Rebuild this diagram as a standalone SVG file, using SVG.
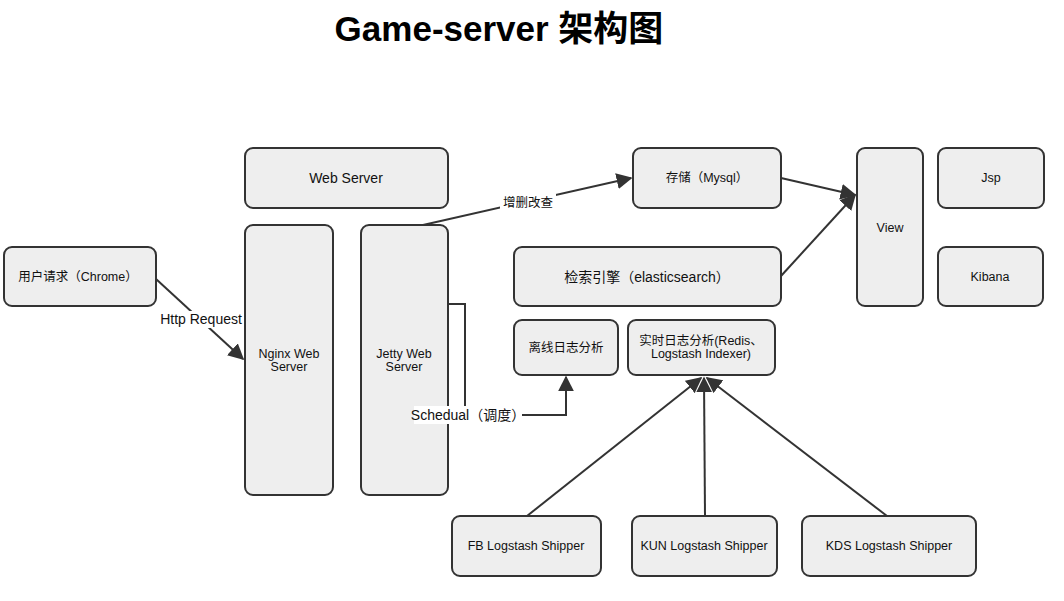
<svg xmlns="http://www.w3.org/2000/svg" width="1064" height="601" viewBox="0 0 1064 601">
<style>
.n rect{fill:#eeeeee;stroke:#333333;stroke-width:2}
text{font-family:"Liberation Sans","Noto Sans CJK SC",sans-serif;fill:#111;text-anchor:middle}
.t{font-size:12.5px}
.m{font-size:14px}
.c{fill:none;stroke:#333333;stroke-width:2}
.lb{fill:#ffffff}
</style>
<defs>
<marker id="b" viewBox="0 0 10 10" refX="9" refY="5" markerWidth="16" markerHeight="16" markerUnits="userSpaceOnUse" orient="auto">
<path d="M0,0 L10,5 L0,10 Z" fill="#333333"/>
</marker>
</defs>
<rect width="1064" height="601" fill="#ffffff"/>
<text x="499" y="41" style="font-size:35px;font-weight:bold;fill:#000">Game-server 架构图</text>

<g id="web-server" class="n"><rect x="245" y="148" width="203" height="60" rx="8"/><text class="m" x="346" y="183">Web Server</text></g>
<g id="user" class="n"><rect x="4" y="247" width="152" height="59" rx="8"/><text class="t" x="78" y="281">用户请求（Chrome）</text></g>
<g id="nginx" class="n"><rect x="245" y="225" width="88" height="270" rx="8"/><text class="t" x="289" y="358">Nginx Web</text><text class="t" x="289" y="371">Server</text></g>
<g id="jetty" class="n"><rect x="361" y="225" width="87" height="270" rx="8"/><text class="t" x="404" y="358">Jetty Web</text><text class="t" x="404" y="371">Server</text></g>
<g id="mysql" class="n"><rect x="633" y="148" width="148" height="60" rx="8"/><text class="t" x="707" y="182">存储（Mysql）</text></g>
<g id="es" class="n"><rect x="514" y="247" width="267" height="59" rx="8"/><text class="m" x="647" y="282">检索引擎（elasticsearch）</text></g>
<g id="offline" class="n"><rect x="514" y="320" width="104" height="55" rx="8"/><text class="t" x="566" y="352">离线日志分析</text></g>
<g id="realtime" class="n"><rect x="628" y="320" width="147" height="55" rx="8"/><text class="t" x="701" y="345">实时日志分析(Redis、</text><text class="t" x="701" y="358">Logstash Indexer)</text></g>
<g id="view" class="n"><rect x="857" y="148" width="66" height="158" rx="8"/><text class="t" x="890" y="232">View</text></g>
<g id="jsp" class="n"><rect x="938" y="148" width="106" height="60" rx="8"/><text class="t" x="991" y="182">Jsp</text></g>
<g id="kibana" class="n"><rect x="938" y="247" width="105" height="59" rx="8"/><text class="t" x="990" y="281">Kibana</text></g>
<g id="fb" class="n"><rect x="452" y="516" width="149" height="60" rx="8"/><text class="t" x="526" y="550">FB Logstash Shipper</text></g>
<g id="kun" class="n"><rect x="632" y="516" width="145" height="60" rx="8"/><text class="t" x="704" y="550">KUN Logstash Shipper</text></g>
<g id="kds" class="n"><rect x="802" y="516" width="174" height="60" rx="8"/><text class="t" x="889" y="550">KDS Logstash Shipper</text></g>

<g id="connectors">
<line class="c" x1="156" y1="279" x2="243" y2="359" marker-end="url(#b)"/>
<line class="c" x1="423" y1="225" x2="631" y2="178" marker-end="url(#b)"/>
<line class="c" x1="781" y1="178" x2="855" y2="195" marker-end="url(#b)"/>
<line class="c" x1="781" y1="276" x2="855" y2="195" marker-end="url(#b)"/>
<polyline class="c" points="448,304 465,304 465,415 566,415 566,377" marker-end="url(#b)"/>
<line class="c" x1="527" y1="516" x2="701" y2="378" marker-end="url(#b)"/>
<line class="c" x1="705" y1="516" x2="704" y2="378" marker-end="url(#b)"/>
<line class="c" x1="887" y1="516" x2="707" y2="378" marker-end="url(#b)"/>
<rect class="lb" x="160" y="311" width="82" height="17"/>
<text class="m" x="201" y="324">Http Request</text>
<rect class="lb" x="500" y="194" width="56" height="17"/>
<text class="t" x="528" y="207">增删改查</text>
<rect class="lb" x="414" y="406" width="108" height="18"/>
<text class="m" x="468" y="420">Schedual（调度）</text>
</g>
</svg>
